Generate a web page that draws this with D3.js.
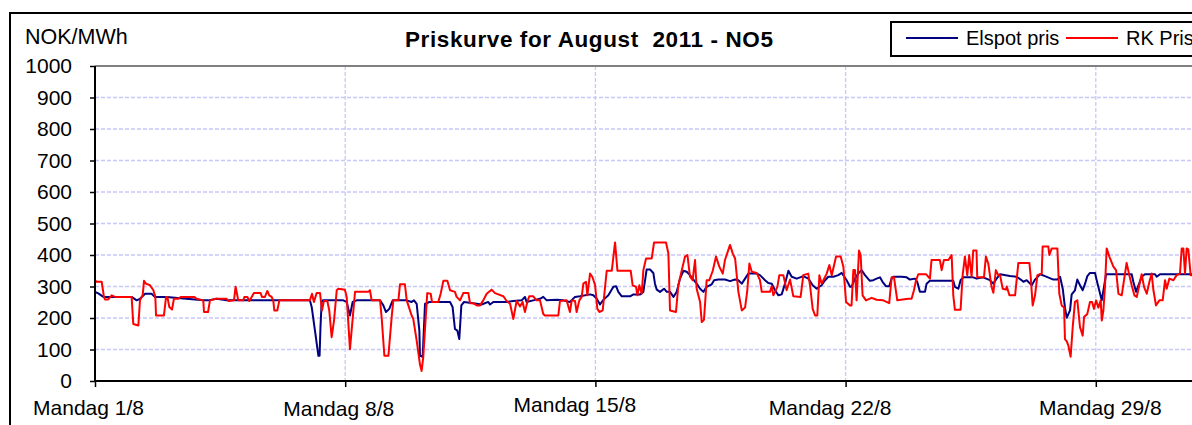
<!DOCTYPE html>
<html>
<head>
  <meta charset="utf-8">
  <title>Priskurve for August 2011 - NO5</title>
  <script src="https://d3js.org/d3.v7.min.js"></script>
  <style>
    body { margin: 0; background: #fff; }
    svg { display: block; font-family: "Liberation Sans", Arial, sans-serif; }
  </style>
</head>
<body>

  <svg width="1192" height="425"></svg>

  <script>

    // Hours since Monday 1/8 00:00 and prices in NOK/MWh
    const elspot = [
      [0,283],[2.2,278],[5.6,267],[24.6,267],[28,256],[30.2,261],[33.6,277],[38,277],[40.3,267],[48,267],
      [72.7,256],[76,256],[81.7,261],[88.4,256],[144.3,256],[145.5,235],[147.7,160],[150,80],[150.8,80],
      [151.4,171],[152.2,251],[153,256],[166.7,256],[169,251],[171.2,208],[173,251],[175.7,256],[191.4,256],
      [193.6,240],[195.4,219],[197.6,229],[199.9,256],[209.3,256],[212.6,251],[214.2,256],[216,245],[217.8,160],
      [218.2,80],[220,77],[221.6,245],[223.1,247],[224.5,251],[238.4,251],[240.1,235],[241.7,165],[243.3,160],
      [244.6,133],[246,240],[247.8,251],[254,247],[259.6,243],[264.1,251],[265.2,243],[267.5,251],[276.4,251],
      [280.9,254],[286.5,256],[288.7,267],[289.8,251],[294.3,256],[298.8,261],[301,267],[303.3,256],[310,258],
      [314.5,256],[318.9,251],[322.3,267],[325.6,269],[332.4,275],[334.6,272],[336.9,261],[339.1,243],
      [341.4,258],[344.7,272],[348.1,299],[349.9,301],[351.4,283],[353.7,269],[359.3,269],[361.5,275],[366,275],
      [368.2,283],[370.4,354],[372.7,354],[374.9,343],[376,309],[377.2,290],[379.4,283],[382.1,293],[383.9,283],
      [386.1,283],[388.4,267],[390.6,283],[392.8,325],[395.1,350],[397.3,347],[399.5,336],[401.8,322],[404,309],
      [406.3,293],[408.5,283],[410.7,299],[414.1,307],[415.7,320],[418.6,322],[423,322],[426.4,317],[429.8,322],
      [432,320],[434.3,309],[436.5,325],[438.7,341],[444.3,341],[446.5,336],[449.9,320],[452.1,311],[454.4,309],
      [456.6,288],[458.9,272],[461.1,275],[463.3,309],[465.6,350],[467.8,331],[471.2,325],[475.6,333],[479,325],
      [481.9,304],[484.6,293],[487.9,304],[490.2,320],[492.4,331],[495.8,331],[499.1,336],[501.4,343],[504.7,320],
      [507,299],[508,299],[510.3,325],[512.5,341],[514.7,352],[517,336],[520.3,318],[522.6,320],[524.8,325],
      [527.1,329],[528.8,315],[531.1,301],[533.3,301],[534.9,325],[536,331],[541.6,331],[545,329],[547.2,322],
      [550.6,325],[552.1,315],[553.9,283],[557.3,283],[558.4,309],[560.6,318],[576.3,318],[577.4,299],[579.7,293],
      [581.2,320],[583,329],[589.7,329],[592,325],[596.4,329],[600.9,320],[603.2,309],[605.4,325],[607.7,339],
      [614.4,333],[618.9,331],[621.6,322],[623.4,315],[625.6,320],[629,304],[631.2,322],[634.6,339],[637.9,333],
      [643.5,322],[646.2,322],[648,331],[649.8,293],[651.3,233],[652.5,201],[654.7,224],[655.8,275],[658,288],
      [659.6,322],[661.4,304],[663.2,288],[664.8,309],[666.3,333],[668.1,343],[671.5,343],[672.6,320],[673.7,299],
      [676,256],[677.5,299],[678.9,339],[680.4,339],[696.1,339],[697.2,315],[699,283],[701.2,311],[702.8,331],
      [705,339],[711.8,339],[712.9,331],[715.1,339],[737,339]
    ];

    const rkPris = [
      [0,320],[1,315],[4.5,315],[6,267],[6.7,259],[8.9,259],[11.2,272],[13.4,267],[24.6,267],[25.7,181],
      [29.1,176],[30.2,256],[32,272],[32.9,318],[34.2,309],[36.9,304],[39.2,288],[40.5,267],[41,208],[46.3,208],
      [47.7,267],[48.6,267],[49.9,235],[51.7,227],[53,261],[56,261],[57.5,267],[66.5,267],[68.3,261],[72.7,256],
      [73.2,219],[75.9,219],[77.2,256],[81.2,261],[88.4,261],[89.5,254],[93.3,256],[94.4,299],[96.2,256],
      [99.6,256],[100.3,267],[102.3,267],[103.6,254],[105.2,267],[106.7,279],[111.2,279],[112.1,267],[114.1,267],
      [115.7,286],[117,272],[118.6,267],[119.7,256],[120.4,224],[122.4,224],[123.8,256],[144.3,256],[145.7,277],
      [147,251],[148.8,279],[151.1,279],[152.4,224],[153.7,254],[156,254],[157.3,224],[158.9,139],[160.5,192],
      [162.3,288],[163.4,293],[167.8,290],[169,267],[171.2,101],[174.6,283],[183.5,283],[184.6,288],[185.8,256],
      [191.4,256],[192.5,200],[194.3,80],[197,80],[199.2,203],[200.3,256],[203.7,256],[204.8,307],[208.1,307],
      [209.3,256],[210.4,240],[212.6,208],[213.7,197],[216,128],[218.2,53],[219.3,32],[220.4,75],[222.2,213],
      [223.1,279],[225.4,277],[226.3,251],[230.5,251],[232.1,277],[233.9,318],[236.6,318],[238.4,288],[241.7,283],
      [242.8,267],[245.1,256],[247.3,279],[250.7,279],[251.8,247],[254,247],[256.3,240],[258.5,240],[260.7,256],
      [263,277],[266.3,290],[268.6,279],[274.2,269],[276.4,254],[278.7,245],[280.9,197],[283.1,254],[285.4,237],
      [287.1,251],[288.7,219],[290.3,251],[291.6,269],[294.3,269],[296.5,256],[298.8,256],[301,213],[302.1,208],
      [311.1,208],[312.2,254],[316.7,256],[318.9,219],[320.1,256],[322.3,254],[323.4,219],[325.2,256],[326.8,267],
      [327.9,309],[329.7,315],[330.6,272],[332.4,341],[334,330],[335.8,304],[337.3,229],[338.7,219],[340.9,224],
      [343.6,350],[347,350],[349.2,440],[350.8,350],[359.7,350],[361,304],[363.3,299],[364.2,272],[365.5,304],
      [367.1,277],[368.2,352],[370,389],[373.8,389],[375.4,440],[383.4,440],[385,405],[386.1,224],[390.1,219],
      [391.7,304],[394,352],[396.2,395],[397.8,400],[399.5,331],[401.3,320],[402.9,384],[404,293],[406.3,251],
      [407.4,187],[408.9,194],[410.7,320],[412.5,320],[414.8,350],[417,395],[419.2,363],[421.5,341],[423,384],
      [426.4,432],[428.2,405],[429.8,389],[432,283],[434.3,224],[436.5,233],[438,288],[439.4,373],[441,347],
      [444.3,343],[446.5,320],[447.7,283],[453.2,283],[454.4,301],[455.5,272],[458.2,299],[459.5,336],[462.2,336],
      [464.4,288],[466.7,322],[468.9,269],[473.8,267],[475.6,336],[478.9,341],[480.1,304],[481.9,229],[483.5,208],
      [485,208],[486.4,336],[487.9,309],[489.1,320],[491.3,341],[493.1,368],[494.7,336],[497.6,395],[500.7,395],
      [502.5,363],[504.3,251],[507,240],[508,240],[509.2,352],[510.3,352],[511.4,256],[513,414],[514.1,400],
      [515.4,272],[517.7,256],[521.5,264],[524.8,258],[529.3,256],[533.3,247],[534.9,329],[536.5,329],[538.7,256],
      [546.1,261],[548.3,261],[549.9,288],[551.2,318],[552.8,339],[558,339],[560.6,325],[561.7,384],[567.3,384],
      [568.5,352],[570,384],[573,384],[575.2,400],[576.3,272],[577.4,226],[581.2,226],[582.6,336],[584.1,395],
      [585.7,336],[587,400],[588.6,331],[589.7,414],[591.9,414],[592.4,329],[596.9,329],[598.2,395],[599.8,373],
      [602,299],[603.2,280],[604.9,352],[606.5,336],[607.7,336],[609.5,293],[611.7,290],[612.2,300],[614,272],
      [617.8,272],[620,375],[627.4,375],[628.3,331],[629.6,240],[631.2,272],[632.8,336],[635.7,341],[636.3,427],
      [640.1,427],[640.8,400],[642.4,421],[646.2,421],[647.5,277],[649.1,240],[650.7,233],[651.3,133],[652.5,126],
      [653.6,112],[655.1,77],[656.5,171],[658,251],[659.6,256],[661.4,171],[663.2,144],[664.1,203],[666.3,213],
      [668.1,251],[669.5,251],[670.8,229],[672.2,256],[673.7,233],[675.3,256],[676,192],[677.1,224],[678.2,304],
      [679.3,421],[681.1,395],[683.8,363],[685.6,352],[687.2,277],[689.4,272],[691.6,341],[692.7,375],[694.5,336],
      [696.1,304],[697.9,272],[699.5,267],[701.2,304],[702.8,339],[704.4,299],[706.2,277],[708,315],[709.5,341],
      [710.7,288],[712.4,240],[714.7,256],[716.9,256],[718.5,320],[719.6,293],[721.4,325],[724.1,320],[726.3,336],
      [728.5,341],[729.7,421],[730.8,421],[731.9,341],[733,421],[734.1,418],[735.7,336],[737,336]
    ];

    // Axis ticks
    const weekStarts = [0, 168, 336, 504, 672];
    const weekLabels = ["Mandag 1/8", "Mandag 8/8", "Mandag 15/8", "Mandag 22/8", "Mandag 29/8"];
    const priceTicks = [0, 100, 200, 300, 400, 500, 600, 700, 800, 900, 1000];
    const seriesNames = ["Elspot pris", "RK Pris"];

    // Excel places the week labels a little unevenly
    const labelDx = [-7, -7, -21, -16, 4];
    const labelDy = [34, 35, 31, 34, 34];

    const hoursInMonth = 744;
    const plot = { left: 95, top: 66, bottom: 381 };
    plot.right = plot.left + hoursInMonth * (250.2 / 168);

    const svg = d3.select("svg");

    // Outer chart border (runs off the right and bottom edge)
    svg.append("rect")
      .attr("x", 10).attr("y", 13)
      .attr("width", 1400).attr("height", 600)
      .attr("fill", "none")
      .attr("stroke", "#000")
      .attr("stroke-width", 2);

    const x = d3.scaleLinear().domain([0, hoursInMonth]).range([plot.left, plot.right]);
    const y = d3.scaleLinear().domain([0, 1000]).range([plot.bottom, plot.top]);

    // Gridlines
    svg.append("g")
      .selectAll("line")
      .data(priceTicks.filter(d => d > 0 && d < 1000))
      .join("line")
        .attr("x1", plot.left).attr("x2", plot.right)
        .attr("y1", d => y(d)).attr("y2", d => y(d))
        .attr("stroke", "#c8c8fa")
        .attr("stroke-width", 1.3)
        .attr("stroke-dasharray", "4,2");

    svg.append("g")
      .selectAll("line")
      .data(weekStarts.slice(1))
      .join("line")
        .attr("x1", d => x(d)).attr("x2", d => x(d))
        .attr("y1", plot.top).attr("y2", plot.bottom)
        .attr("stroke", "#c8c8fa")
        .attr("stroke-width", 1.3)
        .attr("stroke-dasharray", "4,2");

    // Plot area top border
    svg.append("line")
      .attr("x1", plot.left).attr("x2", plot.right)
      .attr("y1", plot.top).attr("y2", plot.top)
      .attr("stroke", "#808080")
      .attr("stroke-width", 2);

    // Lines
    const line = d3.line()
      .x(d => x(d[0]))
      .y(d => y(d[1]));

    svg.append("path")
      .datum(elspot)
      .attr("fill", "none")
      .attr("stroke", "#000080")
      .attr("stroke-width", 2)
      .attr("stroke-linejoin", "round")
      .attr("d", line);

    svg.append("path")
      .datum(rkPris)
      .attr("fill", "none")
      .attr("stroke", "#ff0000")
      .attr("stroke-width", 2)
      .attr("stroke-linejoin", "round")
      .attr("d", line);

    // Y axis
    const yAxis = svg.append("g")
      .attr("transform", `translate(${plot.left},0)`)
      .call(d3.axisLeft(y).tickValues(priceTicks).tickSize(5).tickPadding(18).tickFormat(d3.format("d")));
    yAxis.select(".domain").remove();
    yAxis.append("line")
      .attr("y1", plot.top).attr("y2", plot.bottom + 1)
      .attr("stroke", "#000").attr("stroke-width", 2);
    yAxis.selectAll(".tick line").attr("stroke", "#000").attr("stroke-width", 1.5);
    yAxis.selectAll(".tick text")
      .attr("font-size", 21)
      .attr("font-family", "Liberation Sans, Arial, sans-serif")
      .attr("fill", "#000");

    // X axis
    const xAxis = svg.append("g")
      .attr("transform", `translate(0,${plot.bottom})`)
      .call(d3.axisBottom(x).tickValues(weekStarts).tickSize(6).tickFormat((d, i) => weekLabels[i]));
    xAxis.select(".domain").remove();
    xAxis.append("line")
      .attr("x1", plot.left - 1).attr("x2", plot.right)
      .attr("stroke", "#000").attr("stroke-width", 2);
    xAxis.selectAll(".tick line").attr("stroke", "#000").attr("stroke-width", 1.5);
    xAxis.selectAll(".tick text")
      .attr("font-size", 21)
      .attr("font-family", "Liberation Sans, Arial, sans-serif")
      .attr("fill", "#000")
      .attr("x", (d, i) => labelDx[i])
      .attr("y", (d, i) => labelDy[i])
      .attr("dy", 0);

    // Unit label and title
    svg.append("text")
      .attr("x", 25).attr("y", 44)
      .attr("font-size", 21.5)
      .text("NOK/MWh");

    svg.append("text")
      .attr("x", 589).attr("y", 47)
      .attr("text-anchor", "middle")
      .attr("font-size", 22.5)
      .attr("font-weight", "bold")
      .attr("textLength", 368)
      .attr("lengthAdjust", "spacing")
      .style("white-space", "pre")
      .text("Priskurve for August  2011 - NO5");

    // Legend (box runs off the right edge)
    const legend = svg.append("g");
    legend.append("rect")
      .attr("x", 891).attr("y", 22)
      .attr("width", 400).attr("height", 34)
      .attr("fill", "#fff")
      .attr("stroke", "#000")
      .attr("stroke-width", 2);

    const legendColors = ["#000080", "#ff0000"];
    const legendX = [906, 1066];
    seriesNames.forEach((name, i) => {
      legend.append("line")
        .attr("x1", legendX[i]).attr("x2", legendX[i] + 52)
        .attr("y1", 38).attr("y2", 38)
        .attr("stroke", legendColors[i])
        .attr("stroke-width", 2);
      legend.append("text")
        .attr("x", legendX[i] + 60).attr("y", 45)
        .attr("font-size", 20)
        .text(name);
    });

  </script>

</body>
</html>
